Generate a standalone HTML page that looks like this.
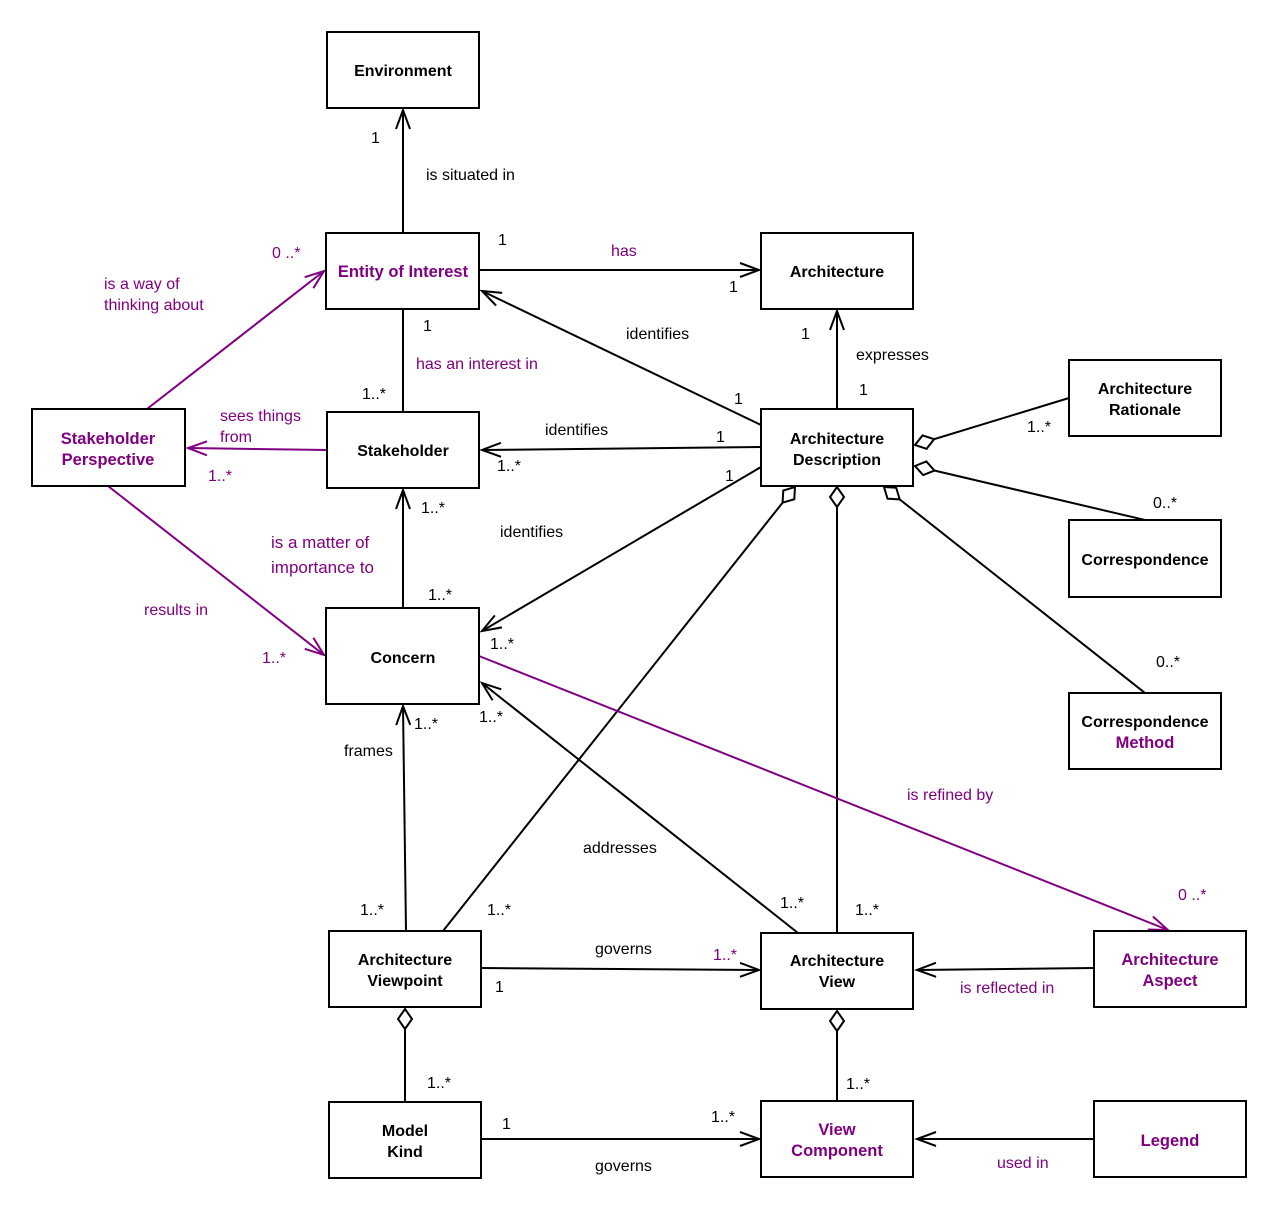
<!DOCTYPE html>
<html><head><meta charset="utf-8"><style>
body{margin:0;background:#fff}
svg text{font-family:"Liberation Sans",Arial,sans-serif;font-size:16px}
.b{font-weight:bold;text-anchor:middle;font-size:16.5px}
.p{fill:#800080}
</style></head><body>
<svg width="1280" height="1211" xmlns="http://www.w3.org/2000/svg">
<defs>
<marker id="a" markerWidth="24" markerHeight="16" refX="21" refY="8" orient="auto" markerUnits="userSpaceOnUse"><path d="M2,1 L21,8 L2,15" fill="none" stroke="#000" stroke-width="2"/></marker>
<marker id="ap" markerWidth="24" markerHeight="16" refX="21" refY="8" orient="auto" markerUnits="userSpaceOnUse"><path d="M2,1 L21,8 L2,15" fill="none" stroke="#800080" stroke-width="2"/></marker>
<marker id="d" markerWidth="24" markerHeight="18" refX="1" refY="9" orient="auto" markerUnits="userSpaceOnUse"><path d="M1,9 L11,2 L21,9 L11,16 Z" fill="#fff" stroke="#000" stroke-width="2"/></marker>
</defs>
<g stroke="#000" stroke-width="2" fill="none">
<line x1="403" y1="233" x2="403" y2="110" marker-end="url(#a)"/>
<line x1="479" y1="270" x2="759" y2="270" marker-end="url(#a)"/>
<line x1="837" y1="409" x2="837" y2="311" marker-end="url(#a)"/>
<line x1="761" y1="425" x2="482" y2="291" marker-end="url(#a)"/>
<line x1="403" y1="309" x2="403" y2="412"/>
<line x1="761" y1="447" x2="482" y2="450" marker-end="url(#a)"/>
<line x1="403" y1="608" x2="403" y2="490" marker-end="url(#a)"/>
<line x1="761" y1="467" x2="482" y2="631" marker-end="url(#a)"/>
<line x1="915" y1="445" x2="1069" y2="398" marker-start="url(#d)"/>
<line x1="915" y1="466" x2="1145" y2="520" marker-start="url(#d)"/>
<line x1="884" y1="487" x2="1145" y2="693" marker-start="url(#d)"/>
<line x1="837" y1="487" x2="837" y2="933" marker-start="url(#d)"/>
<line x1="795" y1="487" x2="443" y2="931" marker-start="url(#d)"/>
<line x1="406" y1="931" x2="403" y2="706" marker-end="url(#a)"/>
<line x1="798" y1="933" x2="482" y2="683" marker-end="url(#a)"/>
<line x1="481" y1="968" x2="759" y2="970" marker-end="url(#a)"/>
<line x1="1094" y1="968" x2="917" y2="970" marker-end="url(#a)"/>
<line x1="405" y1="1009" x2="405" y2="1102" marker-start="url(#d)"/>
<line x1="837" y1="1011" x2="837" y2="1101" marker-start="url(#d)"/>
<line x1="481" y1="1139" x2="759" y2="1139" marker-end="url(#a)"/>
<line x1="1094" y1="1139" x2="917" y2="1139" marker-end="url(#a)"/>
</g>
<g stroke="#800080" stroke-width="2" fill="none">
<line x1="327" y1="450" x2="188" y2="448" marker-end="url(#ap)"/>
<line x1="147" y1="409" x2="324" y2="271" marker-end="url(#ap)"/>
<line x1="108" y1="486" x2="324" y2="655" marker-end="url(#ap)"/>
<line x1="479" y1="656" x2="1168" y2="930" marker-end="url(#ap)"/>
</g>
<g stroke="#000" stroke-width="2" fill="#fff">
<rect x="327" y="32" width="152" height="76"/>
<rect x="326" y="233" width="153" height="76"/>
<rect x="761" y="233" width="152" height="76"/>
<rect x="327" y="412" width="152" height="76"/>
<rect x="32" y="409" width="153" height="77"/>
<rect x="761" y="409" width="152" height="77"/>
<rect x="1069" y="360" width="152" height="76"/>
<rect x="1069" y="520" width="152" height="77"/>
<rect x="1069" y="693" width="152" height="76"/>
<rect x="326" y="608" width="153" height="96"/>
<rect x="329" y="931" width="152" height="76"/>
<rect x="761" y="933" width="152" height="76"/>
<rect x="1094" y="931" width="152" height="76"/>
<rect x="329" y="1102" width="152" height="76"/>
<rect x="761" y="1101" width="152" height="76"/>
<rect x="1094" y="1101" width="152" height="76"/>
</g>
<g class="b">
<text x="403" y="76">Environment</text>
<text x="403" y="277" class="b p">Entity of Interest</text>
<text x="837" y="277">Architecture</text>
<text x="403" y="456">Stakeholder</text>
<text x="108" y="444" class="b p">Stakeholder</text><text x="108" y="465" class="b p">Perspective</text>
<text x="837" y="444">Architecture</text><text x="837" y="465">Description</text>
<text x="1145" y="394">Architecture</text><text x="1145" y="415">Rationale</text>
<text x="1145" y="565">Correspondence</text>
<text x="1145" y="727">Correspondence</text><text x="1145" y="748" class="b p">Method</text>
<text x="403" y="663">Concern</text>
<text x="405" y="965">Architecture</text><text x="405" y="986">Viewpoint</text>
<text x="837" y="966">Architecture</text><text x="837" y="987">View</text>
<text x="1170" y="965" class="b p">Architecture</text><text x="1170" y="986" class="b p">Aspect</text>
<text x="405" y="1136">Model</text><text x="405" y="1157">Kind</text>
<text x="837" y="1135" class="b p">View</text><text x="837" y="1156" class="b p">Component</text>
<text x="1170" y="1146" class="b p">Legend</text>
</g>
<g>
<text x="371" y="143">1</text>
<text x="426" y="180">is situated in</text>
<text x="498" y="245">1</text>
<text x="611" y="256" class="p">has</text>
<text x="729" y="292">1</text>
<text x="272" y="258" class="p">0 ..*</text>
<text x="104" y="289" class="p">is a way of</text><text x="104" y="310" class="p">thinking about</text>
<text x="423" y="331">1</text>
<text x="626" y="339">identifies</text>
<text x="801" y="339">1</text>
<text x="856" y="360">expresses</text>
<text x="859" y="395">1</text>
<text x="416" y="369" class="p">has an interest in</text>
<text x="734" y="404">1</text>
<text x="362" y="399">1..*</text>
<text x="220" y="421" class="p">sees things</text><text x="220" y="442" class="p">from</text>
<text x="545" y="435">identifies</text>
<text x="716" y="442">1</text>
<text x="497" y="471">1..*</text>
<text x="725" y="481">1</text>
<text x="208" y="481" class="p">1..*</text>
<text x="1027" y="432">1..*</text>
<text x="1153" y="508">0..*</text>
<text x="421" y="513">1..*</text>
<text x="500" y="537">identifies</text>
<text x="271" y="548" class="p" style="font-size:17px">is a matter of</text><text x="271" y="573" class="p" style="font-size:17px">importance to</text>
<text x="428" y="600">1..*</text>
<text x="144" y="615" class="p">results in</text>
<text x="490" y="649">1..*</text>
<text x="262" y="663" class="p">1..*</text>
<text x="1156" y="667">0..*</text>
<text x="414" y="729">1..*</text>
<text x="479" y="722">1..*</text>
<text x="344" y="756">frames</text>
<text x="907" y="800" class="p">is refined by</text>
<text x="583" y="853">addresses</text>
<text x="1178" y="900" class="p">0 ..*</text>
<text x="360" y="915">1..*</text>
<text x="487" y="915">1..*</text>
<text x="780" y="908">1..*</text>
<text x="855" y="915">1..*</text>
<text x="595" y="954">governs</text>
<text x="713" y="960" class="p">1..*</text>
<text x="495" y="992">1</text>
<text x="960" y="993" class="p">is reflected in</text>
<text x="427" y="1088">1..*</text>
<text x="846" y="1089">1..*</text>
<text x="502" y="1129">1</text>
<text x="711" y="1122">1..*</text>
<text x="595" y="1171">governs</text>
<text x="997" y="1168" class="p">used in</text>
</g>
</svg>
</body></html>
